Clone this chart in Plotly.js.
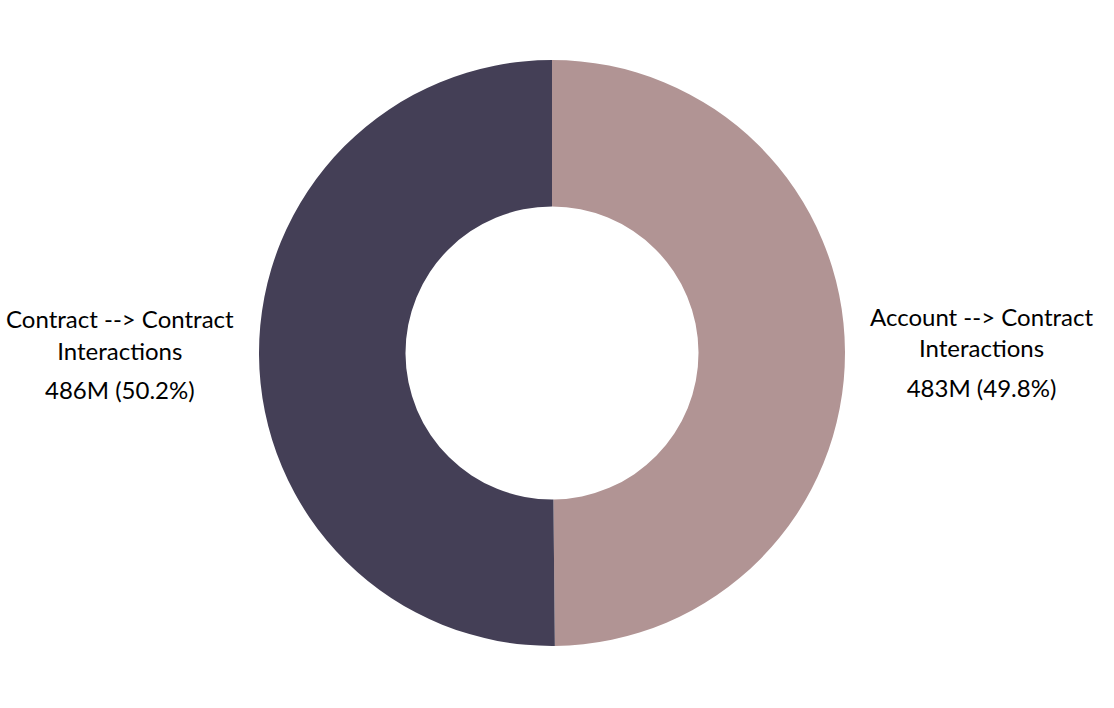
<!DOCTYPE html>
<html>
<head>
<meta charset="utf-8">
<script src="https://cdn.plot.ly/plotly-3.0.1.min.js"></script>
<style>html,body{margin:0;padding:0;background:#fff;}#chart{width:1114px;height:708px;}</style>
</head>
<body>
<div id="chart"></div>
<script>
const categories = ["Account --> Contract<br>Interactions", "Contract --> Contract<br>Interactions"];
const values = [483e6, 486e6];
const colors = ["#B19494", "#443F56"];

const trace = {
  type: "pie",
  labels: categories,
  values: values,
  hole: 0.5,
  sort: false,
  direction: "clockwise",
  marker: {colors: colors, line: {width: 0}},
  textposition: "outside",
  texttemplate: "%{label}<br><sub><sub><span style='font-size:24px'>%{value:.3s} (%{percent:.1%})</span></sub></sub>",
  textfont: {family: "Lato, sans-serif", size: 24, color: "#000"},
  automargin: false,
  showlegend: false,
  hoverinfo: "label+value+percent"
};

const layout = {
  width: 1114,
  height: 708,
  margin: {l: 40, r: 50, t: 60, b: 62},
  paper_bgcolor: "#fff",
  plot_bgcolor: "#fff",
  showlegend: false
};

Plotly.newPlot("chart", [trace], layout, {displayModeBar: false, staticPlot: true});
</script>
</body>
</html>
